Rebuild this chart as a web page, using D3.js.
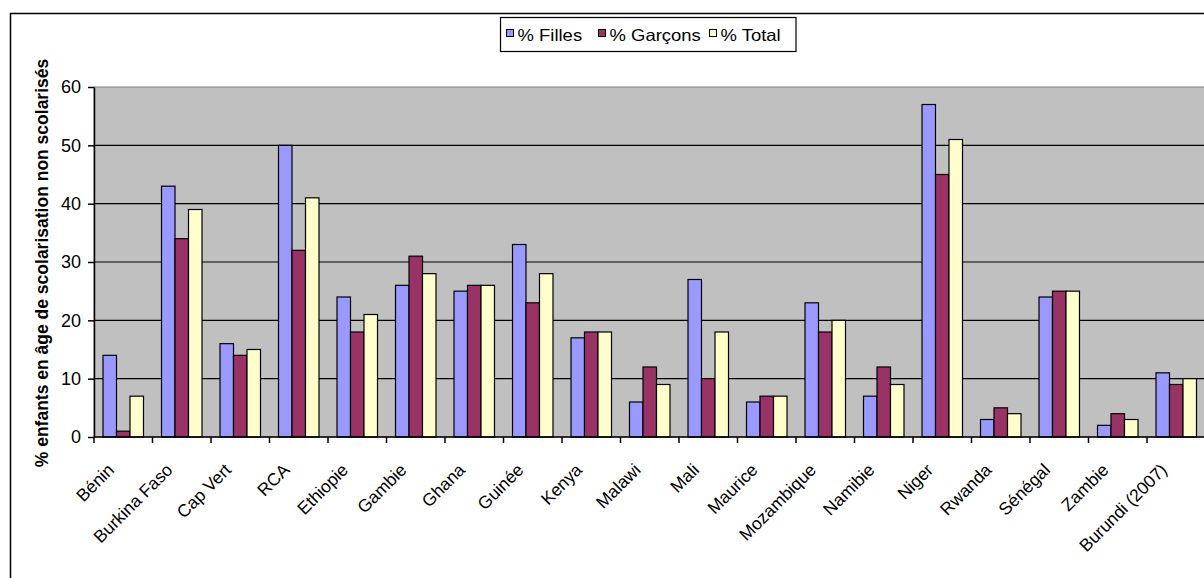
<!DOCTYPE html>
<html>
<head>
<meta charset="utf-8">
<script src="https://cdnjs.cloudflare.com/ajax/libs/d3/7.8.5/d3.min.js"></script>
<style>
  body { margin: 0; background: #fff; }
  svg { display: block; font-family: Arial, "Liberation Sans", sans-serif; }
</style>
</head>
<body>
<div class="canvas"></div>
<script>
// data
const countries = ["Bénin", "Burkina Faso", "Cap Vert", "RCA", "Ethiopie", "Gambie", "Ghana",
  "Guinée", "Kenya", "Malawi", "Mali", "Maurice", "Mozambique", "Namibie", "Niger",
  "Rwanda", "Sénégal", "Zambie", "Burundi (2007)"];
const filles = [14, 43, 16, 50, 24, 26, 25, 33, 17, 6, 27, 6, 23, 7, 57, 3, 24, 2, 11];
const garcons = [1, 34, 14, 32, 18, 31, 26, 23, 18, 12, 10, 7, 18, 12, 45, 5, 25, 4, 9];
const total = [7, 39, 15, 41, 21, 28, 26, 28, 18, 9, 18, 7, 20, 9, 51, 4, 25, 3, 10];
const seriesNames = ["% Filles", "% Garçons", "% Total"];
const seriesColors = ["#9999FF", "#993366", "#FFFFCC"];
const yTicks = [0, 10, 20, 30, 40, 50, 60];
const yTitle = "% enfants en âge de scolarisation non scolarisés";

const svg = d3
  .select(".canvas")
  .append("svg")
  .attr("width", 1204)
  .attr("height", 578);

// outer chart frame (runs off the right and bottom edges)
svg.append("rect")
  .attr("x", 10.5).attr("y", 13.5)
  .attr("width", 1300).attr("height", 700)
  .attr("fill", "#fff")
  .attr("stroke", "#000")
  .attr("stroke-width", 1.5);

// margins and dimensions
const margin = { top: 87, left: 94 };
const graphWidth = 1111.5;
const graphHeight = 350;

const graph = svg.append("g")
  .attr("transform", `translate(${margin.left},${margin.top})`);

const y = d3.scaleLinear().domain([0, 60]).range([graphHeight, 0]);
const x0 = d3.scaleBand().domain(countries).range([0, graphWidth]).padding(0);
const x1 = d3.scaleBand().domain(seriesNames).range([0, x0.bandwidth()])
  .paddingInner(0).paddingOuter(0.667);

// plot area
graph.append("rect")
  .attr("width", graphWidth).attr("height", graphHeight)
  .attr("fill", "#C0C0C0")
  .attr("stroke", "#808080");

// gridlines
graph.selectAll(".grid")
  .data(yTicks.filter(d => d > 0 && d < 60))
  .enter()
  .append("line")
  .attr("x1", 0).attr("x2", graphWidth)
  .attr("y1", d => y(d)).attr("y2", d => y(d))
  .attr("stroke", "#000").attr("stroke-width", 1.2);

const rows = countries.map((c, i) => ({
  country: c,
  values: [filles[i], garcons[i], total[i]]
}));

const groups = graph.selectAll(".grp")
  .data(rows)
  .enter()
  .append("g")
  .attr("transform", d => `translate(${x0(d.country)},0)`);

groups.selectAll("rect")
  .data(d => d.values.map((v, j) => ({ name: seriesNames[j], v: v, j: j })))
  .enter()
  .append("rect")
  .attr("x", d => x1(d.name))
  .attr("y", d => y(d.v))
  .attr("width", x1.bandwidth())
  .attr("height", d => graphHeight - y(d.v))
  .attr("fill", d => seriesColors[d.j])
  .attr("stroke", "#000")
  .attr("stroke-width", 1.2);

// y axis
const yAxisGroup = graph.append("g");
yAxisGroup.call(d3.axisLeft(y).tickValues(yTicks).tickSize(6).tickSizeOuter(0).tickPadding(7));
yAxisGroup.select(".domain").attr("stroke", "#000").attr("stroke-width", 1.5);
yAxisGroup.selectAll("line").attr("stroke", "#000").attr("stroke-width", 1.5);
yAxisGroup.selectAll("text")
  .attr("font-size", 18)
  .attr("font-family", "Arial, 'Liberation Sans', sans-serif")
  .attr("fill", "#000");

// x axis: line at zero, ticks between categories
graph.append("line")
  .attr("x1", 0).attr("x2", graphWidth)
  .attr("y1", y(0)).attr("y2", y(0))
  .attr("stroke", "#000").attr("stroke-width", 1.5);

graph.selectAll(".xtick")
  .data(countries)
  .enter()
  .append("line")
  .attr("x1", d => x0(d)).attr("x2", d => x0(d))
  .attr("y1", y(0)).attr("y2", y(0) + 6)
  .attr("stroke", "#000").attr("stroke-width", 1.5);

graph.selectAll(".xlabel")
  .data(countries)
  .enter()
  .append("text")
  .text(d => d)
  .attr("transform", d => `translate(${x0(d) + x0.bandwidth() / 2 - 8},${y(0) + 34}) rotate(-45)`)
  .attr("text-anchor", "end")
  .attr("font-size", 17.5);

// y axis title
svg.append("text")
  .text(yTitle)
  .attr("transform", `translate(48,${margin.top + graphHeight / 2 + 1}) rotate(-90)`)
  .attr("text-anchor", "middle")
  .attr("font-size", 17.5)
  .attr("font-weight", "bold");

// legend
const legend = svg.append("g");
legend.append("rect")
  .attr("x", 500.5).attr("y", 17.5)
  .attr("width", 295.5).attr("height", 34)
  .attr("fill", "#fff")
  .attr("stroke", "#000")
  .attr("stroke-width", 1.2);

const legendX = [506.5, 598.5, 709.5];
const items = legend.selectAll(".item")
  .data(seriesNames)
  .enter()
  .append("g")
  .attr("transform", (d, i) => `translate(${legendX[i]},0)`);

items.append("rect")
  .attr("x", 0).attr("y", 29.5)
  .attr("width", 7).attr("height", 7)
  .attr("fill", (d, i) => seriesColors[i])
  .attr("stroke", "#000");

items.append("text")
  .text(d => d)
  .attr("transform", "translate(11,40.5) scale(1.12,1)")
  .attr("font-size", 16.5);
</script>
</body>
</html>
